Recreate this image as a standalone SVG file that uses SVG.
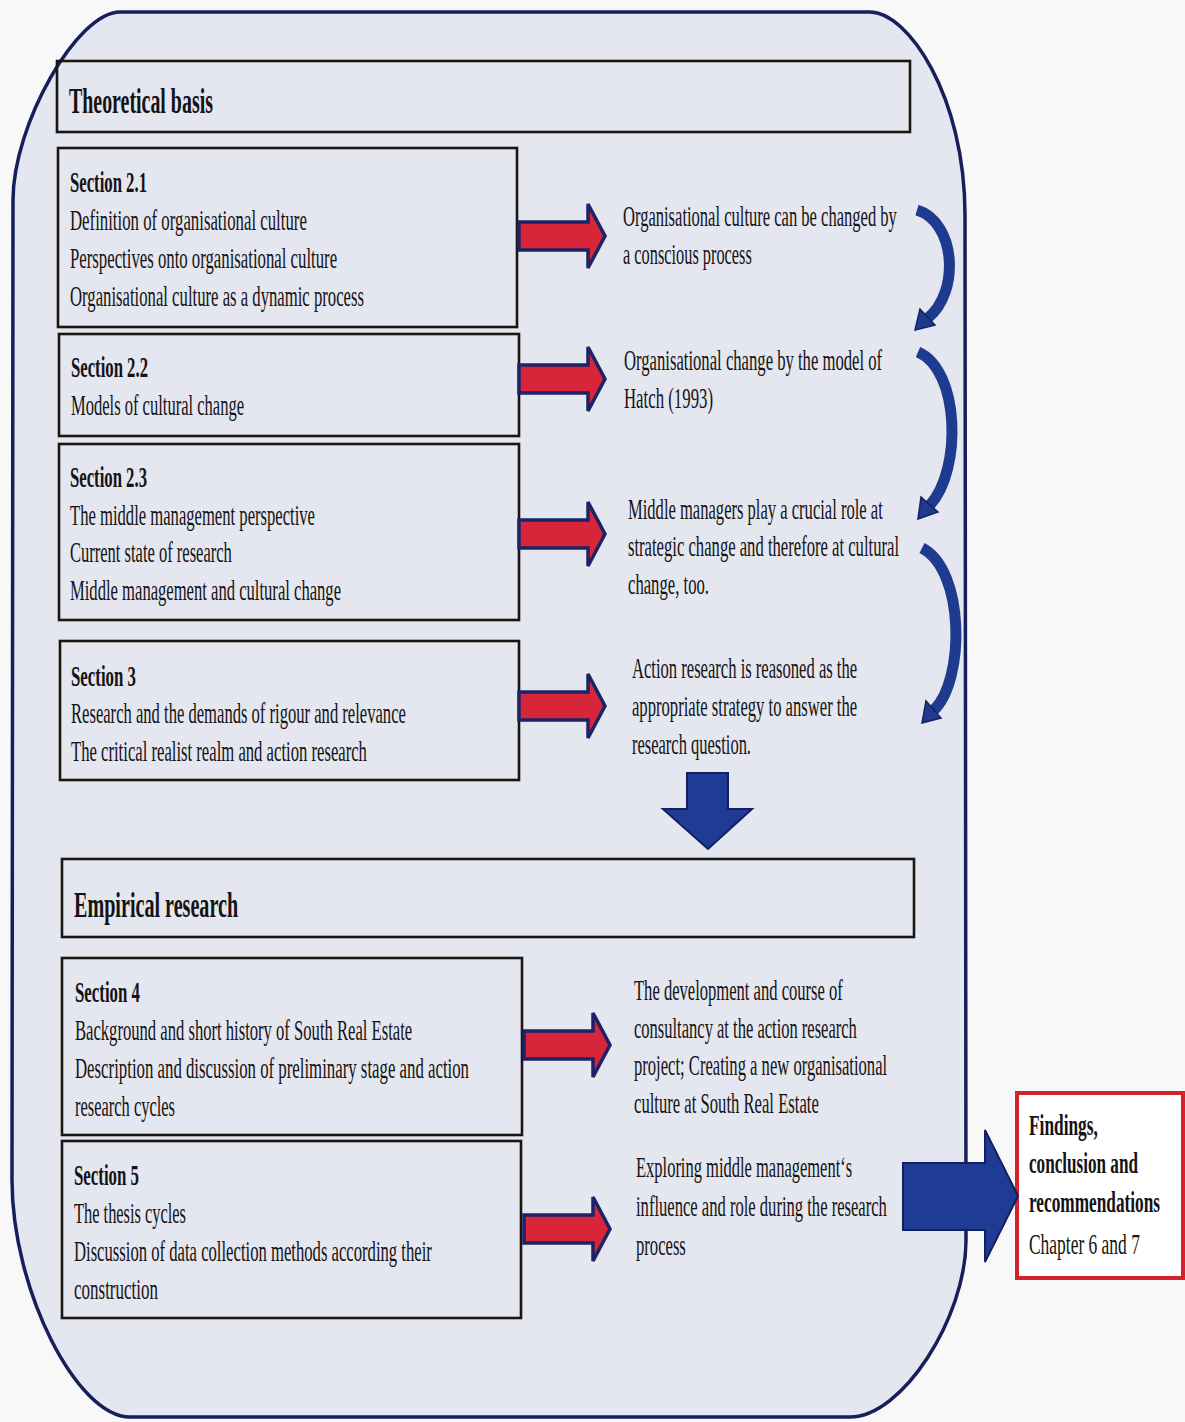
<svg xmlns="http://www.w3.org/2000/svg" width="1185" height="1422" viewBox="0 0 1185 1422">
  <defs>
    <style>
      .frame { fill: #e4e6f0; stroke: #161f5c; stroke-width: 3.5; }
      .box { fill: none; stroke: #1b1612; stroke-width: 2.6; }
      /* narrow Times-style lettering: glyphs squeezed horizontally about their own left edge */
      .t, .h { font-family: "Liberation Serif", "Times New Roman", serif; fill: #151313;
               transform-box: fill-box; transform-origin: 0 0; transform: scaleX(0.56); }
      .t { font-size: 30px; }
      .h { font-size: 36px; font-weight: bold; }
      .b { font-weight: bold; }
      .red { fill: #d7263a; stroke: #1c2366; stroke-width: 3.5; stroke-linejoin: miter; }
      .blue { fill: #1f3b93; stroke: #141f63; stroke-width: 2; stroke-linejoin: miter; }
      .curve { fill: none; stroke: #1f3b8f; stroke-width: 11; stroke-linecap: butt; }
      .curvehead { fill: #1f3b8f; stroke: #15225f; stroke-width: 1.5; }
    </style>
    <!-- red block arrow, origin at the left end of the shaft centre line -->
    <path id="redArrow" class="red" d="M0,-14 L69,-14 L69,-32 L86,0 L69,32 L69,14 L0,14 Z"/>
  </defs>

  <rect x="0" y="0" width="1185" height="1422" fill="#f8f8f8"/>

  <!-- rounded outer frame -->
  <path class="frame" d="M120,12 L870,12 C908,12 965,96 965,215 L966,1240 C966,1318 902,1417 850,1417 L130,1417 C77,1417 12,1290 12,1180 L13,200 C13,125 77,12 120,12 Z"/>

  <!-- Theoretical basis -->
  <g id="header-theory">
    <rect class="box" x="57" y="61" width="853" height="71"/>
    <text class="h" x="69" y="113" textLength="257" lengthAdjust="spacingAndGlyphs">Theoretical basis</text>
  </g>

  <g id="section-2-1">
    <rect class="box" x="58" y="148" width="459" height="179"/>
    <text class="t b" x="70" y="192" textLength="137.5" lengthAdjust="spacingAndGlyphs">Section 2.1</text>
    <text class="t" x="70" y="230" textLength="423" lengthAdjust="spacingAndGlyphs">Definition of organisational culture</text>
    <text class="t" x="70" y="268" textLength="477" lengthAdjust="spacingAndGlyphs">Perspectives onto organisational culture</text>
    <text class="t" x="70" y="306" textLength="525" lengthAdjust="spacingAndGlyphs">Organisational culture as a dynamic process</text>
  </g>

  <g id="section-2-2">
    <rect class="box" x="59" y="334" width="460" height="102"/>
    <text class="t b" x="71" y="377" textLength="137.5" lengthAdjust="spacingAndGlyphs">Section 2.2</text>
    <text class="t" x="71" y="415" textLength="309" lengthAdjust="spacingAndGlyphs">Models of cultural change</text>
  </g>

  <g id="section-2-3">
    <rect class="box" x="59" y="444" width="460" height="176"/>
    <text class="t b" x="70" y="487" textLength="137.5" lengthAdjust="spacingAndGlyphs">Section 2.3</text>
    <text class="t" x="70" y="525" textLength="437.5" lengthAdjust="spacingAndGlyphs">The middle management perspective</text>
    <text class="t" x="70" y="562" textLength="289" lengthAdjust="spacingAndGlyphs">Current state of research</text>
    <text class="t" x="70" y="600" textLength="484" lengthAdjust="spacingAndGlyphs">Middle management and cultural change</text>
  </g>

  <g id="section-3">
    <rect class="box" x="60" y="641" width="459" height="139"/>
    <text class="t b" x="71" y="686" textLength="116" lengthAdjust="spacingAndGlyphs">Section 3</text>
    <text class="t" x="71" y="723" textLength="598" lengthAdjust="spacingAndGlyphs">Research and the demands of rigour and relevance</text>
    <text class="t" x="71" y="761" textLength="528.5" lengthAdjust="spacingAndGlyphs">The critical realist realm and action research</text>
  </g>

  <g id="result-culture">
    <text class="t" x="623" y="226" textLength="489" lengthAdjust="spacingAndGlyphs">Organisational culture can be changed by</text>
    <text class="t" x="623" y="264" textLength="230" lengthAdjust="spacingAndGlyphs">a conscious process</text>
  </g>

  <g id="result-hatch">
    <text class="t" x="624" y="370" textLength="461" lengthAdjust="spacingAndGlyphs">Organisational change by the model of</text>
    <text class="t" x="624" y="408" textLength="159" lengthAdjust="spacingAndGlyphs">Hatch (1993)</text>
  </g>

  <g id="result-managers">
    <text class="t" x="628" y="519" textLength="455" lengthAdjust="spacingAndGlyphs">Middle managers play a crucial role at</text>
    <text class="t" x="628" y="556" textLength="484" lengthAdjust="spacingAndGlyphs">strategic change and therefore at cultural</text>
    <text class="t" x="628" y="594" textLength="144.6" lengthAdjust="spacingAndGlyphs">change, too.</text>
  </g>

  <g id="result-action-research">
    <text class="t" x="632" y="678" textLength="402" lengthAdjust="spacingAndGlyphs">Action research is reasoned as the</text>
    <text class="t" x="632" y="716" textLength="402" lengthAdjust="spacingAndGlyphs">appropriate strategy to answer the</text>
    <text class="t" x="632" y="754" textLength="212.5" lengthAdjust="spacingAndGlyphs">research question.</text>
  </g>

  <!-- Empirical research -->
  <g id="header-empirical">
    <rect class="box" x="62" y="859" width="852" height="78"/>
    <text class="h" x="74" y="917" textLength="293" lengthAdjust="spacingAndGlyphs">Empirical research</text>
  </g>

  <g id="section-4">
    <rect class="box" x="62" y="958" width="460" height="177"/>
    <text class="t b" x="75" y="1002" textLength="116" lengthAdjust="spacingAndGlyphs">Section 4</text>
    <text class="t" x="75" y="1040" textLength="602" lengthAdjust="spacingAndGlyphs">Background and short history of South Real Estate</text>
    <text class="t" x="75" y="1078" textLength="703.6" lengthAdjust="spacingAndGlyphs">Description and discussion of preliminary stage and action</text>
    <text class="t" x="75" y="1116" textLength="178.6" lengthAdjust="spacingAndGlyphs">research cycles</text>
  </g>

  <g id="section-5">
    <rect class="box" x="62" y="1141" width="459" height="177"/>
    <text class="t b" x="74" y="1185" textLength="116" lengthAdjust="spacingAndGlyphs">Section 5</text>
    <text class="t" x="74" y="1223" textLength="200" lengthAdjust="spacingAndGlyphs">The thesis cycles</text>
    <text class="t" x="74" y="1261" textLength="639" lengthAdjust="spacingAndGlyphs">Discussion of data collection methods according their</text>
    <text class="t" x="74" y="1299" textLength="150" lengthAdjust="spacingAndGlyphs">construction</text>
  </g>

  <g id="result-consultancy">
    <text class="t" x="634" y="1000" textLength="373" lengthAdjust="spacingAndGlyphs">The development and course of</text>
    <text class="t" x="634" y="1038" textLength="398" lengthAdjust="spacingAndGlyphs">consultancy at the action research</text>
    <text class="t" x="634" y="1075" textLength="452" lengthAdjust="spacingAndGlyphs">project; Creating a new organisational</text>
    <text class="t" x="634" y="1113" textLength="330" lengthAdjust="spacingAndGlyphs">culture at South Real Estate</text>
  </g>

  <g id="result-influence">
    <text class="t" x="636" y="1177" textLength="386" lengthAdjust="spacingAndGlyphs">Exploring middle management‘s</text>
    <text class="t" x="636" y="1216" textLength="448" lengthAdjust="spacingAndGlyphs">influence and role during the research</text>
    <text class="t" x="636" y="1255" textLength="89" lengthAdjust="spacingAndGlyphs">process</text>
  </g>

  <g id="findings">
    <rect x="1017" y="1093" width="166" height="185" fill="#ffffff" stroke="#d3222a" stroke-width="4"/>
    <text class="t b" x="1029" y="1135" textLength="123" lengthAdjust="spacingAndGlyphs">Findings,</text>
    <text class="t b" x="1029" y="1173" textLength="194.6" lengthAdjust="spacingAndGlyphs">conclusion and</text>
    <text class="t b" x="1029" y="1212" textLength="234" lengthAdjust="spacingAndGlyphs">recommendations</text>
    <text class="t" x="1029" y="1254" textLength="198" lengthAdjust="spacingAndGlyphs">Chapter 6 and 7</text>
  </g>

  <!-- connectors -->
  <g id="connectors">
    <use href="#redArrow" transform="translate(519,236)"/>
    <use href="#redArrow" transform="translate(519,379)"/>
    <use href="#redArrow" transform="translate(519,534)"/>
    <use href="#redArrow" transform="translate(519,706)"/>
    <use href="#redArrow" transform="translate(524,1045)"/>
    <use href="#redArrow" transform="translate(524,1229)"/>

    <!-- curved links between the conclusions -->
    <path class="curve" d="M917,210 C956,222 960,292 928,318"/>
    <polygon class="curvehead" points="915,330 935,325 920,309"/>
    <path class="curve" d="M918,352 C960,370 962,470 930,505"/>
    <polygon class="curvehead" points="918,519 938,512 921,497"/>
    <path class="curve" d="M922,548 C965,570 965,680 934,710"/>
    <polygon class="curvehead" points="922,723 941,718 926,701"/>

    <!-- from theory to empirical research -->
    <polygon class="blue" points="687,773 728,773 728,809 752,809 708,849 663,809 687,809"/>

    <!-- to findings -->
    <polygon class="blue" points="903,1163 985,1163 985,1130 1018,1196 985,1262 985,1230 903,1230"/>
  </g>
</svg>
